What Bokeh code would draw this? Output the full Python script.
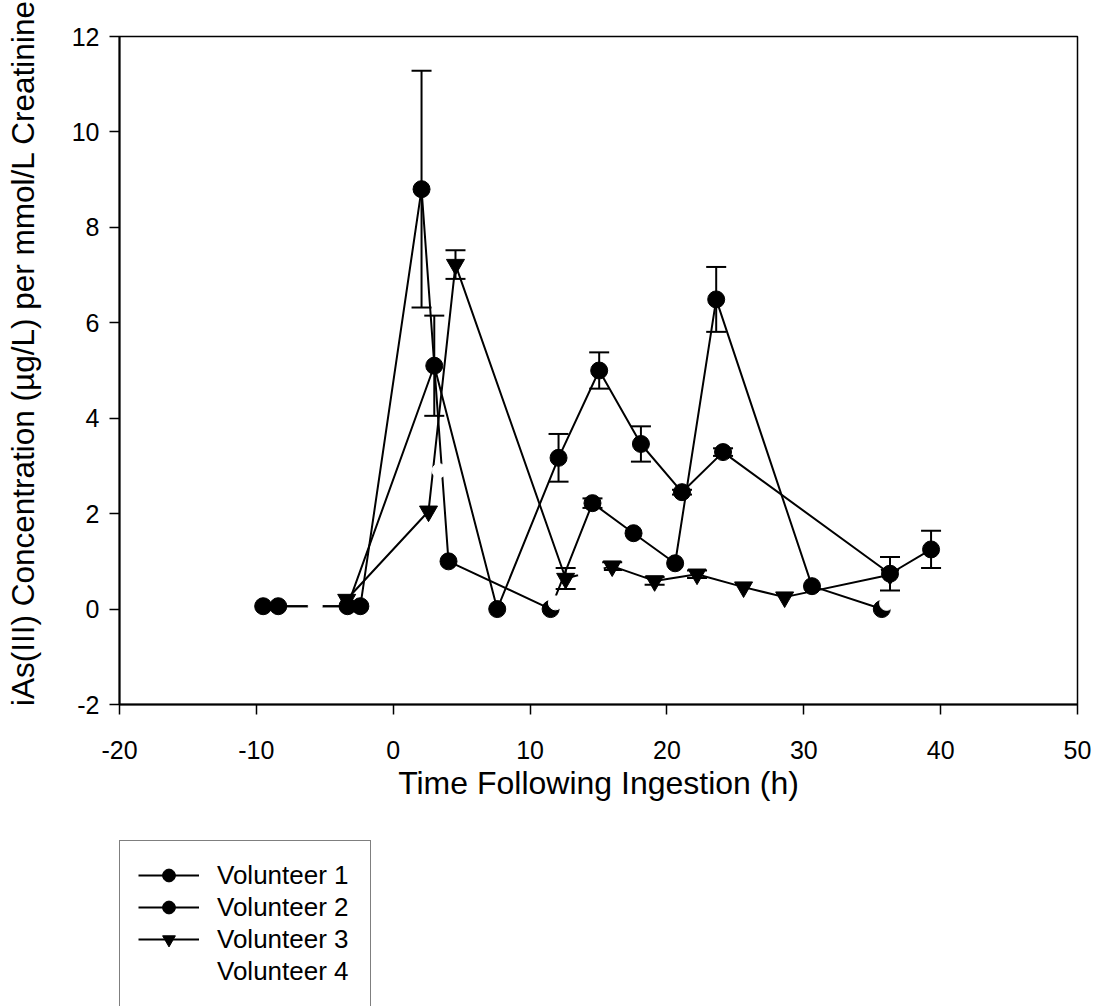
from bokeh.plotting import figure
from bokeh.layouts import column
from bokeh.models import (ColumnDataSource, Whisker, TeeHead, Legend, LegendItem,
                          FixedTicker, Range1d)
from bokeh.embed import file_html
from bokeh.resources import INLINE

# Urinary iAs(III) per mmol/L creatinine versus time after ingestion (h)
hours_v1 = [-9.5, -2.4, 2.07, 4.04, 11.5, 14.56, 17.56, 20.6, 23.6, 30.6, 35.7]
conc_v1 = [0.06, 0.06, 8.8, 1.0, 0.0, 2.22, 1.59, 0.96, 6.49, 0.48, 0.0]
err_v1 = [0, 0, 2.48, 0, 0, 0.1, 0, 0, 0.68, 0, 0]

hours_v2 = [-8.4, -3.34, 3.0, 7.6, 12.08, 15.05, 18.1, 21.1, 24.1, 36.3, 39.3]
conc_v2 = [0.06, 0.06, 5.1, 0.0, 3.17, 5.0, 3.46, 2.45, 3.29, 0.74, 1.25]
err_v2 = [0, 0, 1.05, 0, 0.5, 0.38, 0.37, 0.05, 0.08, 0.35, 0.39]

hours_v3 = [-3.4, 2.58, 4.55, 12.6, 16.0, 19.1, 22.2, 25.6, 28.6, 36.3]
conc_v3 = [0.2, 2.05, 7.22, 0.64, 0.9, 0.59, 0.73, 0.46, 0.25, 0.72]
err_v3 = [0, 0, 0.3, 0.22, 0.08, 0.08, 0.08, 0, 0, 0]

hours_v4 = [-5.7, 3.35, 11.85, 14.0, 14.85, 36.05]
conc_v4 = [0.06, 2.9, 0.13, 0.77, 0.82, 0.12]

labels = ["Volunteer 1", "Volunteer 2", "Volunteer 3", "Volunteer 4"]

x_ticks = [-20, -10, 0, 10, 20, 30, 40, 50]
y_ticks = [-2, 0, 2, 4, 6, 8, 10, 12]

FONT = "Liberation Sans"
NBSP = "\u00a0"

p = figure(width=1100, height=840, output_backend="svg", toolbar_location=None,
           x_range=Range1d(-20, 50), y_range=Range1d(-2, 12),
           min_border_left=119, min_border_right=23, min_border_top=36,
           min_border_bottom=136)
p.grid.visible = False
p.outline_line_color = "black"
p.outline_line_width = 1.5
p.background_fill_color = "white"
p.border_fill_color = "white"

for ax, ticks in ((p.xaxis[0], x_ticks), (p.yaxis[0], y_ticks)):
    ax.ticker = FixedTicker(ticks=ticks, minor_ticks=[])
    ax.major_label_overrides = {t: str(t) for t in ticks}
    ax.major_tick_out = 10
    ax.major_tick_in = 0
    ax.minor_tick_out = 0
    ax.minor_tick_in = 0
    ax.axis_line_width = 2
    ax.major_tick_line_width = 1.5
    ax.major_label_text_font = FONT
    ax.major_label_text_font_size = "25px"
    ax.major_label_text_color = "black"
    ax.axis_label_text_font = FONT
    ax.axis_label_text_font_style = "normal"
    ax.axis_label_text_color = "black"

p.xaxis.axis_label = "Time Following Ingestion (h)"
p.xaxis.axis_label_text_font_size = "32px"
p.xaxis.major_label_standoff = 26
p.xaxis.axis_label_standoff = 3

# the vertical title sits a little above the frame's middle, so it is padded at its start
p.yaxis.axis_label = NBSP * 4 + "iAs(III) Concentration (µg/L) per mmol/L Creatinine"
p.yaxis.axis_label_text_font_size = "31.5px"
p.yaxis.major_label_standoff = 10
p.yaxis.axis_label_standoff = 28

sources = []


def add_series(hours, conc, err, marker, size, color="black"):
    src = ColumnDataSource(dict(t=hours, c=conc))
    sources.append(src)
    p.line("t", "c", source=src, line_color=color, line_width=2)
    if err is not None:
        keep = [i for i, e in enumerate(err) if e > 0]
        esrc = ColumnDataSource(dict(
            t=[hours[i] for i in keep],
            hi=[conc[i] + err[i] for i in keep],
            lo=[conc[i] - err[i] for i in keep]))
        p.add_layout(Whisker(source=esrc, base="t", upper="hi", lower="lo",
                             line_color=color, line_width=2,
                             upper_head=TeeHead(size=20, line_width=2, line_color=color),
                             lower_head=TeeHead(size=20, line_width=2, line_color=color)))
    p.scatter("t", "c", source=src, marker=marker, size=size,
              fill_color=color, line_color=color)


add_series(hours_v1, conc_v1, err_v1, "circle", 17)
add_series(hours_v2, conc_v2, err_v2, "circle", 17)
add_series(hours_v3, conc_v3, err_v3, "inverted_triangle", 18)

# Volunteer 4 is plotted in white
src4 = ColumnDataSource(dict(t=hours_v4, c=conc_v4))
sources.append(src4)
p.scatter("t", "c", source=src4, marker="circle", size=14,
          fill_color="white", line_color="white")

# Key panel under the chart; its ranges lie outside the data so only the key shows
key = figure(width=1100, height=166, output_backend="svg", toolbar_location=None,
             x_range=Range1d(100, 101), y_range=Range1d(100, 101),
             x_axis_location=None, y_axis_location=None,
             min_border_left=119, min_border_right=0, min_border_top=0,
             min_border_bottom=0)
key.grid.visible = False
key.outline_line_color = None
key.background_fill_color = "white"
key.border_fill_color = "white"

styles = [("circle", 17, "black"), ("circle", 17, "black"),
          ("inverted_triangle", 18, "black"), ("circle", 14, "white")]
items = []
for lab, src, (mk, sz, col) in zip(labels, sources, styles):
    ln = key.line("t", "c", source=src, line_color=col, line_width=2)
    sc = key.scatter("t", "c", source=src, marker=mk, size=sz,
                     fill_color=col, line_color=col)
    items.append(LegendItem(label=lab, renderers=[ln, sc]))
items.append(LegendItem(label=" ", renderers=[key.scatter(
    "t", "c", source=src4, marker="circle", size=1, fill_alpha=0, line_alpha=0)]))

legend = Legend(items=items, location="top_left", orientation="vertical",
                padding=18, spacing=0, margin=0,
                label_height=32, glyph_height=32, glyph_width=61, label_standoff=18,
                label_width=135,
                label_text_font=FONT, label_text_font_size="26px",
                label_text_color="black",
                border_line_color="black", border_line_width=1.5,
                background_fill_color="white", background_fill_alpha=1)
key.add_layout(legend, "center")

layout = column(p, key, spacing=0)
open("out.html", "w").write(file_html(layout, INLINE))
